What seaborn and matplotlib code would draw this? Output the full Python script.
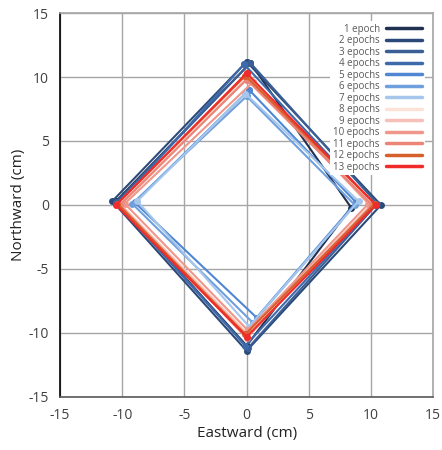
import matplotlib
matplotlib.use("Agg")
import matplotlib.pyplot as plt
import seaborn as sns
import pandas as pd
from matplotlib.lines import Line2D

epochs = ["1 epoch", "2 epochs", "3 epochs", "4 epochs", "5 epochs", "6 epochs", "7 epochs",
          "8 epochs", "9 epochs", "10 epochs", "11 epochs", "12 epochs", "13 epochs"]

# closed loops: top, right, bottom, left, top
east = [
    [0.3, 8.4, 0.0, -10.5, 0.3],
    [0.0, 10.8, 0.0, -10.8, 0.0],
    [0.3, 10.5, 0.1, -10.5, 0.3],
    [-0.2, 10.3, -0.1, -10.3, -0.2],
    [0.2, 8.8, 0.8, -9.0, 0.2],
    [0.0, 8.7, 0.5, -9.2, 0.0],
    [-0.1, 9.0, 0.2, -8.8, -0.1],
    [0.0, 10.2, -0.1, -10.3, 0.0],
    [0.1, 10.0, 0.0, -10.1, 0.1],
    [0.5, 9.8, 0.1, -9.8, 0.5],
    [0.0, 10.1, 0.0, -10.2, 0.0],
    [-0.1, 10.3, -0.1, -10.4, -0.1],
    [0.0, 10.4, 0.0, -10.5, 0.0],
]
north = [
    [11.1, -0.2, -11.0, 0.3, 11.1],
    [11.2, 0.0, -11.4, 0.3, 11.2],
    [11.1, 0.1, -11.2, 0.2, 11.1],
    [11.0, 0.0, -11.0, 0.1, 11.0],
    [9.0, 0.2, -8.8, 0.2, 9.0],
    [8.5, 0.0, -9.2, 0.1, 8.5],
    [8.7, 0.3, -9.5, 0.3, 8.7],
    [10.2, 0.1, -10.2, 0.0, 10.2],
    [10.0, 0.0, -10.0, 0.0, 10.0],
    [9.6, 0.1, -9.8, 0.1, 9.6],
    [9.8, 0.0, -10.4, 0.0, 9.8],
    [10.1, 0.1, -10.1, 0.1, 10.1],
    [10.3, 0.0, -10.3, 0.0, 10.3],
]

colors = ["#1f3050", "#2b4a7a", "#3b5f95", "#3d6aab", "#4f87d2", "#6f9fdc", "#a6c6ec",
          "#fde2d8", "#f6c0b8", "#f0968a", "#ec8478", "#d6602c", "#ef2b2b"]

rows = []
for ep, xs, ys in zip(epochs, east, north):
    for i, (x, y) in enumerate(zip(xs, ys)):
        rows.append({"epoch": ep, "order": i, "x": x, "y": y})
df = pd.DataFrame(rows)

sns.set_style("white")
plt.rcParams["font.family"] = ["Open Sans", "DejaVu Sans"]

fig = plt.figure(figsize=(4.42, 4.5), dpi=100)
ax = fig.add_axes([0.136, 0.118, 0.844, 0.853])

for ep, c in zip(epochs, colors):
    sub = df[df["epoch"] == ep]
    sns.lineplot(data=sub, x="x", y="y", sort=False, estimator=None, color=c,
                 linewidth=1.5, marker="o", markersize=5, markeredgewidth=0, ax=ax)

ax.set_xlim(-15, 15)
ax.set_ylim(-15, 15)
ticks = [-15, -10, -5, 0, 5, 10, 15]
ax.set_xticks(ticks)
ax.set_yticks(ticks)
ax.set_xticklabels([str(t) for t in ticks])
ax.set_yticklabels([str(t) for t in ticks])
ax.grid(True, color="#a6a6a6", linewidth=1.0)
ax.set_axisbelow(True)
ax.tick_params(length=0, labelsize=10, colors="#404040", pad=8)
ax.set_xlabel("Eastward (cm)", fontsize=11, color="#222222", labelpad=2)
ax.set_ylabel("Northward (cm)", fontsize=11, color="#222222", labelpad=2)
for s in ["top", "right"]:
    ax.spines[s].set_color("#a6a6a6")
ax.spines["left"].set_color("#000000")
ax.spines["bottom"].set_color("#595959")
for s in ax.spines.values():
    s.set_linewidth(1.2)

handles = [Line2D([0], [0], color=c, linewidth=2.5) for c in colors]
leg = ax.legend(handles, epochs, loc="upper right", frameon=True, fontsize=7,
                markerfirst=False, handlelength=3.8, handletextpad=0.6,
                labelspacing=0.05, borderaxespad=0.8, facecolor="white",
                edgecolor="none", framealpha=1.0, borderpad=0.3)
for t in leg.get_texts():
    t.set_color("#595959")

fig.savefig("out.png", dpi=100)
